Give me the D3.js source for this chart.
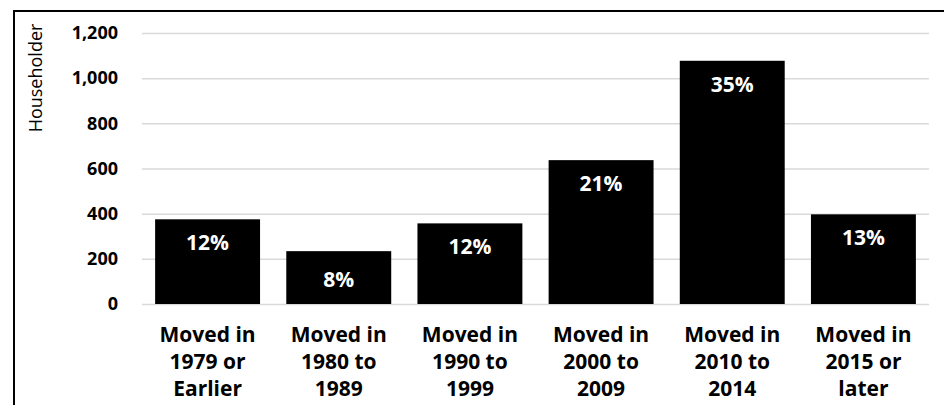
<!DOCTYPE html>
<html><head><meta charset="utf-8">
<script src="https://cdn.jsdelivr.net/npm/d3@7"></script>
<style>body{margin:0;background:#fff}svg{display:block}text{font-family:"Open Sans","Noto Sans",sans-serif}</style>
</head><body><svg id="c" width="944" height="405"></svg>
<script>
const categories = [["Moved in","1979 or","Earlier"],["Moved in","1980 to","1989"],["Moved in","1990 to","1999"],["Moved in","2000 to","2009"],["Moved in","2010 to","2014"],["Moved in","2015 or","later"]];
const values = [375, 234, 357, 637, 1077, 397];
const percentLabels = ["12%","8%","12%","21%","35%","13%"];
const yTicks = [0,200,400,600,800,1000,1200];
const yTitle = "Householder";

(function(){
const svg = d3.select("#c");
svg.append("rect").attr("x",14).attr("y",11).attr("width",960).attr("height",420)
  .attr("fill","none").attr("stroke","#000").attr("stroke-width",2);

const mLeft = 142, mRight = 929, mTop = 33, mBottom = 304;
const x = d3.scaleBand().domain(d3.range(categories.length)).range([mLeft,mRight]).paddingInner(0.2).paddingOuter(0.1);
const y = d3.scaleLinear().domain([0,1200]).range([mBottom,mTop]);

const yAxis = d3.axisLeft(y).tickValues(yTicks).tickSize(-(mRight-mLeft)).tickFormat(d3.format(","));
const gy = svg.append("g").attr("transform",`translate(${mLeft},0)`).call(yAxis);
gy.select(".domain").remove();
gy.selectAll(".tick line").attr("stroke","#d9d9d9").attr("stroke-width",1.5);
gy.selectAll(".tick text").attr("x",-24).attr("font-size",18).attr("font-weight","bold").attr("fill","#000");

svg.append("text").attr("transform","translate(42,78) rotate(-90)").attr("text-anchor","middle")
  .attr("font-size",18).attr("fill","#000").text(yTitle);

svg.selectAll("rect.bar").data(values).join("rect").attr("class","bar")
  .attr("x",(d,i)=>x(i)).attr("width",x.bandwidth())
  .attr("y",d=>y(d)).attr("height",d=>y(0)-y(d)).attr("fill","#000");

svg.selectAll("text.pct").data(values).join("text").attr("class","pct")
  .attr("x",(d,i)=>x(i)+x.bandwidth()/2).attr("y",(d,i)=>y(d)+(i===1?36:31))
  .attr("text-anchor","middle").attr("font-size",21).attr("font-weight","bold").attr("fill","#fff")
  .text((d,i)=>percentLabels[i]);

const xAxis = d3.axisBottom(x).tickSize(0).tickFormat("");
const gx = svg.append("g").attr("transform",`translate(0,${mBottom})`).call(xAxis);
gx.select(".domain").remove();
gx.selectAll(".tick").each(function(d){
  const t = d3.select(this).append("text").attr("text-anchor","middle").attr("font-size",21)
    .attr("font-weight","bold").attr("fill","#000");
  categories[d].forEach((line,k)=>t.append("tspan").attr("x",0).attr("y",38+k*27).text(line));
});
})();
</script></body></html>
